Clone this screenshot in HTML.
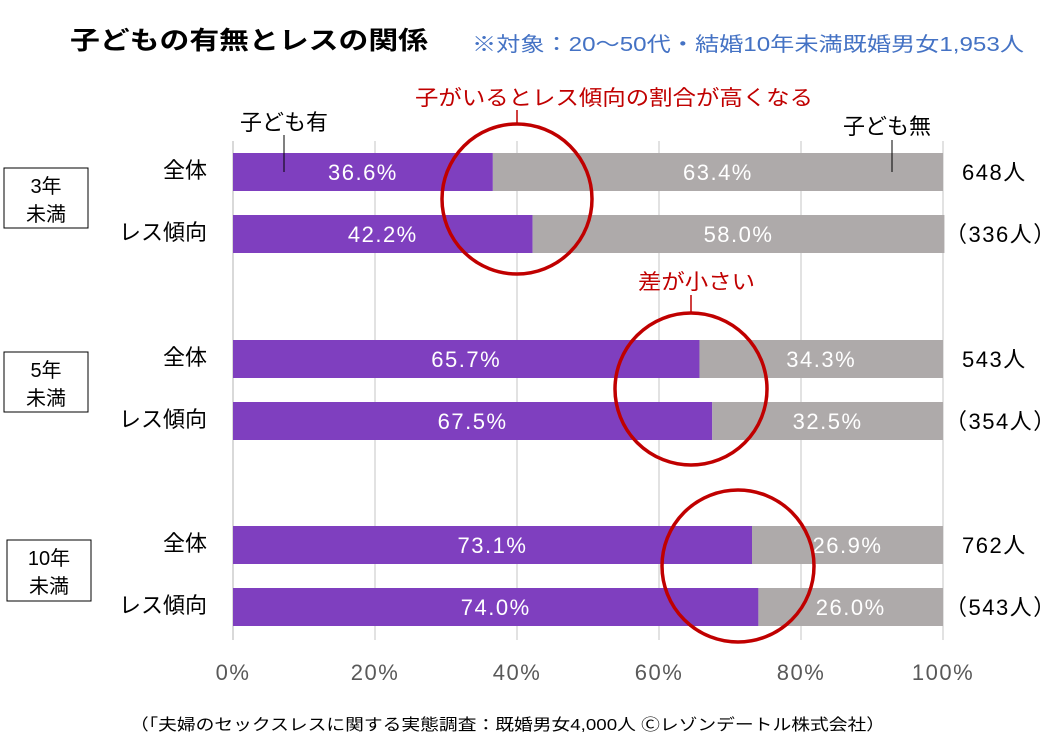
<!DOCTYPE html>
<html><head><meta charset="utf-8"><style>
body{margin:0;background:#fff;}
svg text{font-family:"Liberation Sans","Noto Sans CJK JP",sans-serif;}
.num{letter-spacing:1.5px;}
</style></head><body>
<svg id="c" width="1051" height="741" viewBox="0 0 1051 741" xmlns="http://www.w3.org/2000/svg">
<text x="70" y="49" font-size="25" font-weight="bold" fill="#000" textLength="358" lengthAdjust="spacingAndGlyphs">子どもの有無とレスの関係</text>
<text x="472" y="51" font-size="20" fill="#4472c4" textLength="552" lengthAdjust="spacingAndGlyphs">※対象：20～50代・結婚10年未満既婚男女1,953人</text>
<g id="grid"></g>
<g id="bars"></g>
<g id="labels"></g>
<rect x="4" y="168" width="84" height="60" fill="none" stroke="#000"/>
<text x="46" y="193" font-size="20" text-anchor="middle">3年</text>
<text x="46" y="221" font-size="20" text-anchor="middle">未満</text>
<rect x="4" y="352" width="84" height="60" fill="none" stroke="#000"/>
<text x="46" y="377" font-size="20" text-anchor="middle">5年</text>
<text x="46" y="405" font-size="20" text-anchor="middle">未満</text>
<rect x="7" y="540" width="84" height="61" fill="none" stroke="#000"/>
<text x="49" y="565" font-size="20" text-anchor="middle">10年</text>
<text x="49" y="593" font-size="20" text-anchor="middle">未満</text>
<text x="240" y="130" font-size="22">子ども有</text>
<line x1="284" y1="135" x2="284" y2="172" stroke="#000"/>
<text x="843" y="134" font-size="22">子ども無</text>
<line x1="892" y1="140" x2="892" y2="172" stroke="#000"/>
<text x="415" y="105" font-size="21" fill="#c00000" textLength="398" lengthAdjust="spacingAndGlyphs">子がいるとレス傾向の割合が高くなる</text>
<line x1="517" y1="110" x2="517" y2="125" stroke="#c00000" stroke-width="1.5"/>
<circle cx="517" cy="199" r="75" fill="none" stroke="#c00000" stroke-width="3.5"/>
<text x="638" y="289" font-size="21" fill="#c00000" textLength="117" lengthAdjust="spacingAndGlyphs">差が小さい</text>
<line x1="691" y1="295" x2="691" y2="313" stroke="#c00000" stroke-width="1.5"/>
<circle cx="691" cy="389" r="76" fill="none" stroke="#c00000" stroke-width="3.5"/>
<circle cx="738" cy="566" r="76" fill="none" stroke="#c00000" stroke-width="3.5"/>
<text x="130" y="730" font-size="16" textLength="755" lengthAdjust="spacingAndGlyphs">（「夫婦のセックスレスに関する実態調査：既婚男女4,000人 Ⓒレゾンデートル株式会社）</text>
</svg>
<script>
const rowLabels=["全体","レス傾向","全体","レス傾向","全体","レス傾向"];
const withChild=[36.6,42.2,65.7,67.5,73.1,74.0];
const withoutChild=[63.4,58.0,34.3,32.5,26.9,26.0];
const counts=["648人","（336人）","543人","（354人）","762人","（543人）"];
const ticks=[0,20,40,60,80,100];
const rowTops=[153,215,340,402,526,588];
const NS="http://www.w3.org/2000/svg";
const x0=233,x1=943;
const xs=v=>x0+(x1-x0)*v/100;
function mk(t,a,p){const e=document.createElementNS(NS,t);for(const k in a)e.setAttribute(k,a[k]);p.appendChild(e);return e;}
const grid=document.getElementById('grid'),bars=document.getElementById('bars'),labels=document.getElementById('labels');
ticks.forEach(t=>{
 const l=mk('line',{x1:xs(t),x2:xs(t),y1:141,y2:640,stroke:'#d9d9d9','stroke-width':t===0?2:1.5},grid);
 
 
 const tx=mk('text',{x:xs(t),y:680,'font-size':22,'text-anchor':'middle',fill:'#595959','class':'num'},grid);
 tx.textContent=t+'%';
 
 
});
withChild.forEach((v,i)=>{
 const y=rowTops[i],h=38;
 const a=mk('rect',{x:xs(0),y:y,width:xs(v)-xs(0),height:h,fill:'#7f3fbf'},bars);
 
 
 const w=withoutChild[i];
 const b=mk('rect',{x:xs(v),y:y,width:xs(v+w)-xs(v),height:h,fill:'#aeaaaa'},bars);
 
 
 const t1=mk('text',{x:(xs(0)+xs(v))/2,y:y+27,'font-size':22,'text-anchor':'middle',fill:'#fff','class':'num'},labels);
 t1.textContent=v.toFixed(1)+'%';
 
 
 const t2=mk('text',{x:(xs(v)+xs(v+w))/2,y:y+27,'font-size':22,'text-anchor':'middle',fill:'#fff','class':'num'},labels);
 t2.textContent=w.toFixed(1)+'%';
 
 
 const rl=mk('text',{x:207,y:y+25,'font-size':22,'text-anchor':'end'},labels);
 rl.textContent=rowLabels[i];
 
 
 const isP=counts[i].startsWith('（');
 const cl=mk('text',{x:isP?945:962,y:y+27,'font-size':22,'class':'num'},labels);
 cl.textContent=counts[i];
 
 
});
</script>
</body></html>
